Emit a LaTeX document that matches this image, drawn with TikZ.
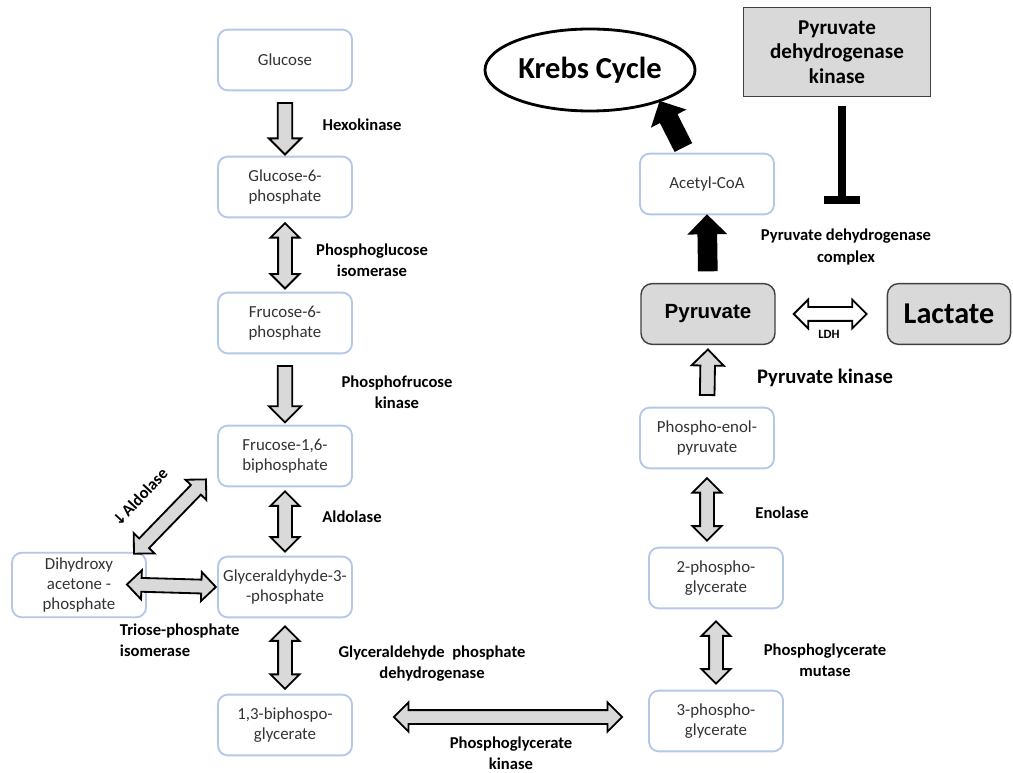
\documentclass[tikz,border=0pt]{standalone}
\usepackage{fontspec}
\setmainfont{Carlito}
\newfontfamily\arialfont{Liberation Sans}
\newfontfamily\symbfont{DejaVu Sans}
\usetikzlibrary{calc, positioning, arrows.meta, shapes.geometric, shapes.arrows}

\definecolor{boxblue}{RGB}{180,199,231}
\definecolor{fillgray}{RGB}{217,217,217}
\definecolor{edgegray}{RGB}{64,64,64}
\definecolor{textgray}{RGB}{51,51,51}

% block arrow: style, from, to, gap at start, gap at end
\newcommand{\fatarrow}[5]{%
  \path ($(#2)!#4!(#3)$) coordinate (fa-a) ($(#3)!#5!(#2)$) coordinate (fa-b);
  \path let \p1=($(fa-b)-(fa-a)$), \n1={veclen(\x1,\y1)}, \n2={atan2(\y1,\x1)}
    in ($(fa-a)!0.5!(fa-b)$) node[#1, minimum height=\n1, rotate=\n2] {};}

\begin{document}
\begin{tikzpicture}[x=0.025cm, y=-0.025cm,
  chem/.style={draw=boxblue, line width=1.3pt, rounded corners=7pt, fill=white,
    minimum width=3.35cm, minimum height=1.52cm, align=center, text=textgray,
    font=\fontsize{12}{14.5}\selectfont},
  keybox/.style={draw=edgegray, line width=1pt, rounded corners=8pt, fill=fillgray,
    minimum width=3.35cm, minimum height=1.52cm},
  enz/.style={align=center, font=\bfseries\fontsize{11.8}{15}\selectfont},
  onearrow/.style={single arrow, draw=black, line width=1.3pt, fill=fillgray,
    inner xsep=0pt, inner ysep=0.16cm, minimum width=0pt, single arrow head extend=0.22cm},
  twoarrow/.style={double arrow, draw=black, line width=1.3pt, fill=fillgray,
    inner xsep=0pt, inner ysep=0.15cm, minimum width=0pt, double arrow head extend=0.19cm},
  blackarrow/.style={onearrow, fill=black, inner ysep=0.2cm},
  inhibit/.style={line width=0.2cm, -{Bar[width=0.92cm]}},
]
\useasboundingbox (0,0) rectangle (1013,773);

% glycolysis, left column
\node[chem] (glc) at (285,60) {Glucose};
\node[chem] (g6p) at (285,187) {Glucose-6-\\phosphate};
\node[chem] (f6p) at (285,323) {Frucose-6-\\phosphate};
\node[chem] (f16bp) at (285,456) {Frucose-1,6-\\biphosphate};
\node[chem] (gap) at (285,587) {Glyceraldyhyde-3-\\-phosphate};
\node[chem] (bpg) at (285,725) {1,3-biphospo-\\glycerate};
\node[chem] (dhap) at (79,585) {Dihydroxy\\acetone -\\phosphate};

% right column
\node[chem] (acoa) at (707,184) {Acetyl-CoA};
\node[keybox, font=\arialfont\bfseries\fontsize{14.6}{17}\selectfont] (pyr) at (708,314) {Pyruvate};
\node[keybox, minimum width=3.08cm, font=\bfseries\fontsize{21.5}{24}\selectfont] (lac) at (949,314) {Lactate};
\node[chem] (pep) at (707,438) {Phospho-enol-\\pyruvate};
\node[chem] (pg2) at (716,578) {2-phospho-\\glycerate};
\node[chem] (pg3) at (716,721) {3-phospho-\\glycerate};
\node[ellipse, draw, line width=2pt, inner sep=0pt, minimum width=5.25cm, minimum height=2.05cm,
  font=\bfseries\fontsize{21.7}{24}\selectfont] (krebs) at (590,70) {Krebs Cycle};
\node[draw=edgegray, line width=1pt, fill=fillgray, minimum width=4.68cm, minimum height=2.22cm,
  align=center, font=\bfseries\fontsize{15}{17.4}\selectfont] (pdk) at (837,52) {Pyruvate\\dehydrogenase\\kinase};

% enzymes
\node[enz] (hk) at (362,125) {Hexokinase};
\node[enz] (pgi) at (372,260) {Phosphoglucose\\isomerase};
\node[enz] (pfk) at (397,392) {Phosphofrucose\\kinase};
\node[enz] (ald) at (352,517) {Aldolase};
\node[enz, rotate=47] (ald2) at (140,497) {{\symbfont\fontsize{11}{12}\selectfont ↓}Aldolase};
\node[enz, align=left, anchor=west] (tpi) at (115,640) {Triose-phosphate\\isomerase};
\node[enz] (gapdh) at (432,664) {Glyceraldehyde\ \ phosphate\\dehydrogenase};
\node[enz] (pgk) at (511,753) {Phosphoglycerate\\kinase};
\node[enz] (pgm) at (825,660) {Phosphoglycerate\\mutase};
\node[enz] (eno) at (782,513) {Enolase};
\node[enz, font=\bfseries\fontsize{14.7}{17}\selectfont] (pk) at (825,378) {Pyruvate kinase};
\node[enz] (pdc) at (846,247) {Pyruvate dehydrogenase\\complex};
\node[enz, font=\bfseries\fontsize{9}{10}\selectfont] (ldh) at (829,334) {LDH};

% block arrows
\fatarrow{onearrow}{glc.south}{g6p.north}{0.2cm}{0.12cm}
\fatarrow{twoarrow}{g6p.south}{f6p.north}{0.12cm}{0.08cm}
\fatarrow{onearrow}{f6p.south}{f16bp.north}{0.2cm}{0.15cm}
\fatarrow{twoarrow}{f16bp.south}{gap.north}{0.1cm}{0.1cm}
\fatarrow{twoarrow}{gap.south}{bpg.north}{0.2cm}{0.12cm}
\fatarrow{twoarrow}{dhap.east}{gap.west}{-0.5cm}{0.03cm}
\coordinate (dhapup) at ($(dhap.north east)+(-13,2)$);
\coordinate (f16low) at ($(f16bp.south west)+(-11,-8)$);
\fatarrow{twoarrow}{dhapup}{f16low}{0}{0}
\coordinate (bpgout) at ($(bpg.east)+(41,-8)$);
\coordinate (pg3in) at ($(pg3.west)+(-26,-4)$);
\fatarrow{twoarrow}{bpgout}{pg3in}{0}{0}
\fatarrow{twoarrow}{pg3.north}{pg2.south}{0.15cm}{0.3cm}
\coordinate (pg2top) at (pep.south |- pg2.north);
\fatarrow{twoarrow}{pep.south}{pg2top}{0.22cm}{0.15cm}
\fatarrow{onearrow}{pep.north}{pyr.south}{0.2cm}{0.2cm}
\fatarrow{twoarrow, fill=white}{pyr.east}{lac.west}{0.45cm}{0.5cm}
\fatarrow{blackarrow}{pyr.north}{acoa.south}{0.2cm}{0.12cm}
\coordinate (kstart) at ($(acoa.north)+(-22,-2)$);
\coordinate (kend) at ($(krebs.south east)+(-3,6)$);
\fatarrow{blackarrow}{kstart}{kend}{0}{0}

% inhibition of the complex
\coordinate (pdkend) at ($(pdk.south)+(5,107)$);
\draw[inhibit] ($(pdk.south)+(5,9)$) -- (pdkend);
\end{tikzpicture}
\end{document}
